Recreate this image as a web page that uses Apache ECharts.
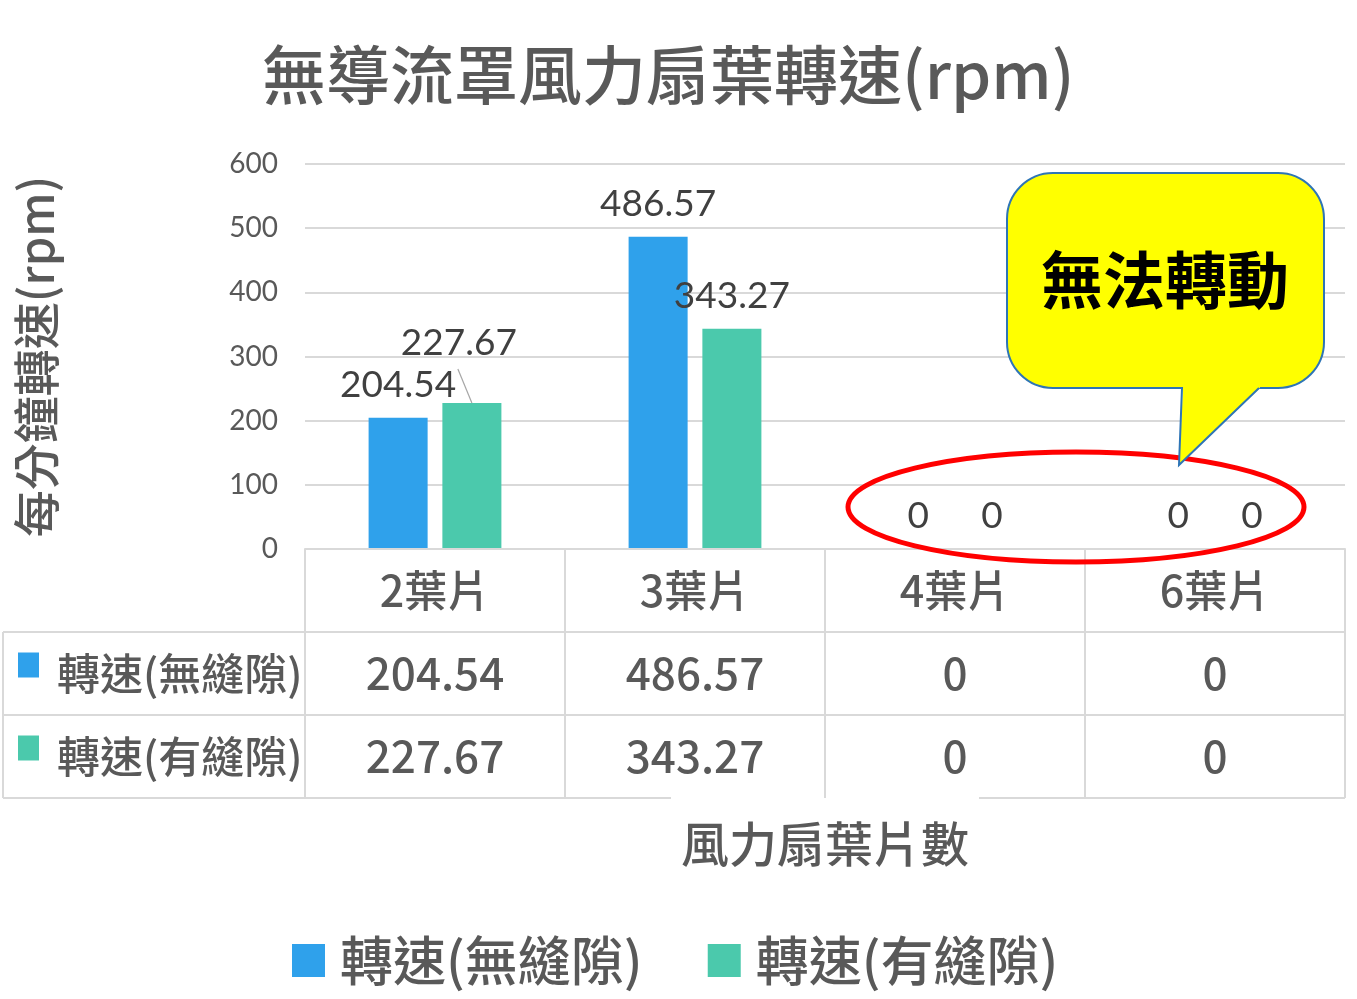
<!DOCTYPE html>
<html>
<head>
<meta charset="utf-8">
<script src="https://cdn.jsdelivr.net/npm/echarts@6/dist/echarts.min.js"></script>
<style>
  html, body { margin: 0; padding: 0; background: #fff; }
  #chart { width: 1357px; height: 999px; }
</style>
</head>
<body>
<div id="chart"></div>
<script>
// Fan blade speed without a duct shroud
const categories = ['2葉片', '3葉片', '4葉片', '6葉片'];
const seriesNames = ['轉速(無縫隙)', '轉速(有縫隙)'];
const speedNoGap = [204.54, 486.57, 0, 0];
const speedWithGap = [227.67, 343.27, 0, 0];
const yMin = 0, yMax = 600, yStep = 100;

const titleText = '無導流罩風力扇葉轉速(rpm)';
const yAxisTitle = '每分鐘轉速(rpm)';
const xAxisTitle = '風力扇葉片數';
const calloutText = '無法轉動';

const COLORS = ['#2FA1EB', '#4BC9AC'];
const GRAY = '#595959';
const LINE = '#d9d9d9';
const CJK = '"Noto Sans CJK TC", "Noto Sans CJK SC", sans-serif';
const NUM = 'Lato, "Noto Sans", sans-serif';
const W = 500;

const chart = echarts.init(document.getElementById('chart'), null, { renderer: 'canvas' });

const labelStyle = {
  show: true,
  position: 'top',
  distance: 14,
  fontFamily: NUM,
  fontSize: 37,
  color: '#404040'
};

const option = {
  backgroundColor: '#fff',
  animation: false,
  title: {
    text: titleText,
    left: 257,
    top: 38,
    textStyle: { fontFamily: CJK, fontSize: 64, fontWeight: W, color: GRAY }
  },
  legend: {
    data: seriesNames,
    left: 287,
    top: 929,
    icon: 'rect',
    itemWidth: 33,
    itemHeight: 33,
    itemGap: 65,
    textStyle: { fontFamily: CJK, fontSize: 53, fontWeight: W, color: GRAY, padding: [0, 0, 0, 10] }
  },
  grid: { left: 305, right: 12, top: 164, bottom: 450, containLabel: false },
  xAxis: {
    type: 'category',
    data: categories,
    z: 10,
    axisLine: { show: true, lineStyle: { color: LINE, width: 2 } },
    axisTick: { show: true, length: 249, lineStyle: { color: LINE, width: 2 } },
    axisLabel: { margin: 20, fontFamily: CJK, fontSize: 43, fontWeight: W, color: GRAY },
    name: xAxisTitle,
    nameLocation: 'middle',
    nameGap: 247,
    nameTextStyle: {
      fontFamily: CJK, fontSize: 48, fontWeight: W, color: GRAY,
      backgroundColor: '#fff',
      padding: [24, 10, 12, 10]
    }
  },
  yAxis: {
    type: 'value',
    min: yMin,
    max: yMax,
    interval: yStep,
    axisLine: { show: false },
    axisTick: { show: false },
    splitLine: { lineStyle: { color: LINE, width: 2 } },
    axisLabel: { margin: 27, fontFamily: NUM, fontSize: 28, color: GRAY },
    name: yAxisTitle,
    nameLocation: 'middle',
    nameRotate: 90,
    nameGap: 245,
    nameTextStyle: { fontFamily: CJK, fontSize: 47, fontWeight: W, color: GRAY }
  },
  series: [
    {
      name: seriesNames[0],
      type: 'bar',
      data: speedNoGap,
      barWidth: '22.7%',
      barGap: '25%',
      itemStyle: { color: COLORS[0] },
      label: labelStyle
    },
    {
      name: seriesNames[1],
      type: 'bar',
      data: speedWithGap,
      barWidth: '22.7%',
      itemStyle: { color: COLORS[1] },
      label: labelStyle,
      labelLayout: function (p) {
        // the 2-blade label is lifted clear of its neighbour
        if (p.dataIndex === 0) return { dx: -13, dy: -27 };
        return {};
      }
    }
  ]
};

chart.setOption(option);

// Data table under the plot, placed on the category axis columns
function buildTable() {
  const xs = categories.map((c, i) => chart.convertToPixel({ xAxisIndex: 0 }, i));
  const band = xs.length > 1 ? xs[1] - xs[0] : 260;
  const rightEdge = xs[xs.length - 1] + band / 2;
  const axisY = chart.convertToPixel({ yAxisIndex: 0 }, yMin);
  const headerH = 83, rowH = 83;
  const tableLeft = 3;
  const rows = [speedNoGap, speedWithGap];
  const els = [];

  // horizontal rules of the two value rows
  for (let r = 0; r <= rows.length; r++) {
    const y = axisY + headerH + rowH * r;
    els.push({
      type: 'line', z: 1,
      shape: { x1: tableLeft, y1: y, x2: rightEdge, y2: y },
      style: { stroke: LINE, lineWidth: 2 }
    });
  }
  // left border of the label column
  els.push({
    type: 'line', z: 1,
    shape: { x1: tableLeft, y1: axisY + headerH, x2: tableLeft, y2: axisY + headerH + rowH * rows.length },
    style: { stroke: LINE, lineWidth: 2 }
  });

  rows.forEach((vals, r) => {
    const cy = axisY + headerH + rowH * r + rowH / 2;
    els.push({
      type: 'rect', z: 2,
      shape: { x: 18, y: cy - 21, width: 21, height: 25 },
      style: { fill: COLORS[r] }
    });
    els.push({
      type: 'text', z: 2,
      x: 57, y: cy,
      style: {
        text: seriesNames[r], font: W + ' 43px ' + CJK, fill: GRAY,
        align: 'left', verticalAlign: 'middle'
      }
    });
    vals.forEach((v, i) => {
      els.push({
        type: 'text', z: 2,
        x: xs[i], y: cy,
        style: {
          text: String(v), font: W + ' 44px ' + CJK, fill: GRAY,
          align: 'center', verticalAlign: 'middle'
        }
      });
    });
  });

  // leader line from the lifted label down to its bar top
  const lay = chart.getModel().getSeriesByIndex(1).getData().getItemLayout(0);
  if (lay) {
    const topY = Math.min(lay.y, lay.y + lay.height);
    els.push({
      type: 'line', z: 3,
      shape: { x1: lay.x + lay.width / 2, y1: topY, x2: lay.x + lay.width / 2 - 14, y2: topY - 34 },
      style: { stroke: '#a6a6a6', lineWidth: 1.2 }
    });
  }

  // note pointing at the blade counts that did not turn
  els.push({
    type: 'ellipse', z: 20,
    shape: { cx: 1076, cy: 507, rx: 228, ry: 55 },
    style: { fill: 'none', stroke: '#ff0000', lineWidth: 5 }
  });
  els.push({
    type: 'rect', z: 21,
    shape: { x: 1007, y: 173, width: 317, height: 215, r: 46 },
    style: { fill: '#ffff00', stroke: '#2E75B6', lineWidth: 2 }
  });
  els.push({
    type: 'polygon', z: 22,
    shape: { points: [[1183, 384], [1183, 389], [1179, 465], [1259, 389], [1262, 384]] },
    style: { fill: '#ffff00' }
  });
  els.push({
    type: 'polyline', z: 23,
    shape: { points: [[1182, 388], [1179, 465], [1259, 388]] },
    style: { stroke: '#2E75B6', lineWidth: 2, fill: 'none' }
  });
  els.push({
    type: 'text', z: 24,
    x: 1165, y: 280,
    style: {
      text: calloutText, font: 'bold 62px ' + CJK, fill: '#000',
      align: 'center', verticalAlign: 'middle'
    }
  });

  chart.setOption({ graphic: { elements: els } });
}

buildTable();
</script>
</body>
</html>
